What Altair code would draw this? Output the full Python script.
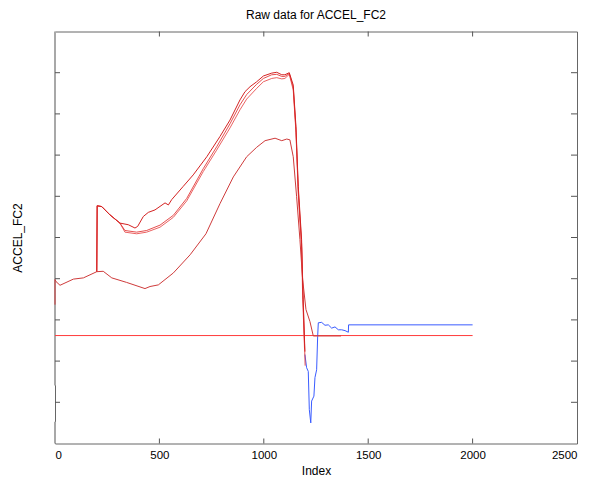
import altair as alt
import pandas as pd

# ---------------- data ----------------
x_tick_values = [0, 500, 1000, 1500, 2000, 2500]
x_inner_ticks = [500, 1000, 1500, 2000]
y_inner_ticks = [1, 2, 3, 4, 5, 6, 7, 8, 9]

low_x = [0, 0, 5, 24, 88, 136, 200, 231, 272, 343, 431, 455, 495, 567, 647, 723, 790, 854,
         918, 966, 1006, 1054, 1086, 1110, 1125, 1141, 1157, 1173, 1186, 1202, 1221, 1237, 1370]
low_y = [3.37, 3.98, 3.93, 3.84, 3.99, 4.02, 4.17, 4.18, 4.02, 3.91, 3.76, 3.81, 3.85, 4.14, 4.58, 5.09, 5.82, 6.47,
         6.96, 7.19, 7.35, 7.41, 7.35, 7.39, 7.37, 6.96, 6.00, 4.95, 3.98, 3.25, 2.96, 2.61, 2.61]

up1_x = [200, 202, 224, 263, 311, 351, 383, 396, 423, 447, 479, 527, 543, 559, 614, 662, 727, 790,
         838, 886, 910, 934, 966, 998, 1038, 1062, 1086, 1101, 1122, 1141, 1154, 1165, 1181, 1188, 1197]
up1_y = [4.17, 5.77, 5.75, 5.55, 5.35, 5.31, 5.23, 5.27, 5.51, 5.61, 5.67, 5.84, 5.79, 5.92, 6.24, 6.52, 6.96, 7.45,
         7.85, 8.34, 8.54, 8.66, 8.78, 8.92, 8.99, 9.01, 8.95, 8.95, 9.00, 8.70, 7.69, 6.24, 4.95, 3.49, 2.23]

up2_x = [200, 202, 224, 263, 311, 335, 391, 439, 503, 567, 631, 710, 774, 838, 886, 918, 966, 998,
         1038, 1062, 1086, 1101, 1122, 1141, 1154, 1165, 1181, 1190, 1198]
up2_y = [4.17, 5.77, 5.75, 5.55, 5.35, 5.17, 5.13, 5.17, 5.30, 5.54, 5.95, 6.67, 7.20, 7.76, 8.22, 8.47, 8.72, 8.86,
         8.95, 8.96, 8.91, 8.91, 8.98, 8.64, 7.62, 6.15, 4.85, 3.30, 1.89]

up3_x = [200, 202, 224, 263, 311, 335, 391, 439, 503, 567, 631, 710, 774, 838, 886, 918, 966, 998,
         1038, 1062, 1086, 1101, 1122, 1141, 1154, 1165, 1181, 1186, 1195]
up3_y = [4.17, 5.77, 5.75, 5.55, 5.35, 5.13, 5.09, 5.13, 5.25, 5.49, 5.89, 6.60, 7.12, 7.66, 8.10, 8.36, 8.62, 8.78,
         8.86, 8.88, 8.85, 8.86, 8.96, 8.58, 7.55, 6.05, 4.75, 3.60, 2.30]

flat_x = [0, 2000]
flat_y = [2.62, 2.62]

blue_x = [1197, 1205, 1213, 1218, 1225, 1229, 1240, 1245, 1253, 1258, 1261, 1277, 1293, 1309, 1325,
          1341, 1357, 1373, 1389, 1405, 1406, 2000]
blue_y = [2.16, 1.84, 1.75, 0.82, 0.50, 1.03, 1.15, 1.60, 1.79, 2.60, 2.93, 2.94, 2.87, 2.88, 2.80,
          2.83, 2.76, 2.76, 2.74, 2.70, 2.88, 2.88]

# left frame line segments (the reference has a gap in it)
left_seg_from = [1.41, 0.0]
left_seg_to = [10.0, 0.53]

series = [
    ("flat", flat_x, flat_y, "#ff3b3b", 1.0),
    ("blue", blue_x, blue_y, "#3a5cff", 1.0),
    ("low", low_x, low_y, "#cf3b3b", 1.0),
    ("up3", up3_x, up3_y, "#e85050", 0.9),
    ("up2", up2_x, up2_y, "#e23a3a", 0.9),
    ("up1", up1_x, up1_y, "#d42222", 1.0),
]

W, H = 522, 412
FONT = "Liberation Sans"

x_enc = alt.X("index:Q", scale=alt.Scale(domain=[0, 2500], nice=False),
              axis=alt.Axis(values=x_tick_values, format="d", ticks=False, domain=False, grid=False,
                            labelPadding=6, labelFontSize=11.5, labelColor="#000",
                            title="Index", titleFontSize=12, titleFontWeight="normal",
                            titlePadding=4, titleColor="#000"))
y_enc = alt.Y("value:Q", scale=alt.Scale(domain=[0, 10], nice=False),
              axis=alt.Axis(labels=False, ticks=False, domain=False, grid=False,
                            title="ACCEL_FC2", titleFontSize=12, titleFontWeight="normal",
                            titlePadding=31, titleColor="#000"))

layers = []

seg_df = pd.DataFrame({"index": [0, 0], "value": left_seg_from, "value2": left_seg_to})
layers.append(alt.Chart(seg_df).mark_rule(color="#a8a8a8", strokeWidth=2).encode(
    x=x_enc, y=y_enc, y2="value2:Q"))

for name, xs, ys, col, sw in series:
    d = pd.DataFrame({"index": xs, "value": ys, "ord": list(range(len(xs)))})
    layers.append(alt.Chart(d).mark_line(color=col, strokeWidth=sw).encode(
        x=x_enc, y=y_enc, order="ord:Q"))

xt = pd.DataFrame({"index": x_inner_ticks})
yt = pd.DataFrame({"value": y_inner_ticks})
tick_col = "#555555"
layers.append(alt.Chart(xt).mark_rule(color=tick_col).encode(x=x_enc, y=alt.value(H), y2=alt.value(H - 5)))
layers.append(alt.Chart(xt).mark_rule(color=tick_col).encode(x=x_enc, y=alt.value(0), y2=alt.value(5)))
layers.append(alt.Chart(yt).mark_rule(color=tick_col).encode(y=y_enc, x=alt.value(0), x2=alt.value(5)))
layers.append(alt.Chart(yt).mark_rule(color=tick_col).encode(y=y_enc, x=alt.value(W), x2=alt.value(W - 6)))

chart = alt.layer(*layers).properties(
    width=W, height=H,
    title=alt.Title("Raw data for ACCEL_FC2", fontSize=12, fontWeight="normal", font=FONT,
                    color="#000", offset=9),
    autosize=alt.AutoSizeParams(type="none"),
    padding={"left": 47, "top": 23.5, "right": 7, "bottom": 40},
).configure(font=FONT).configure_view(stroke="#666666", strokeWidth=1)

chart.save("out.html", embed_options={"renderer": "svg", "actions": False})
